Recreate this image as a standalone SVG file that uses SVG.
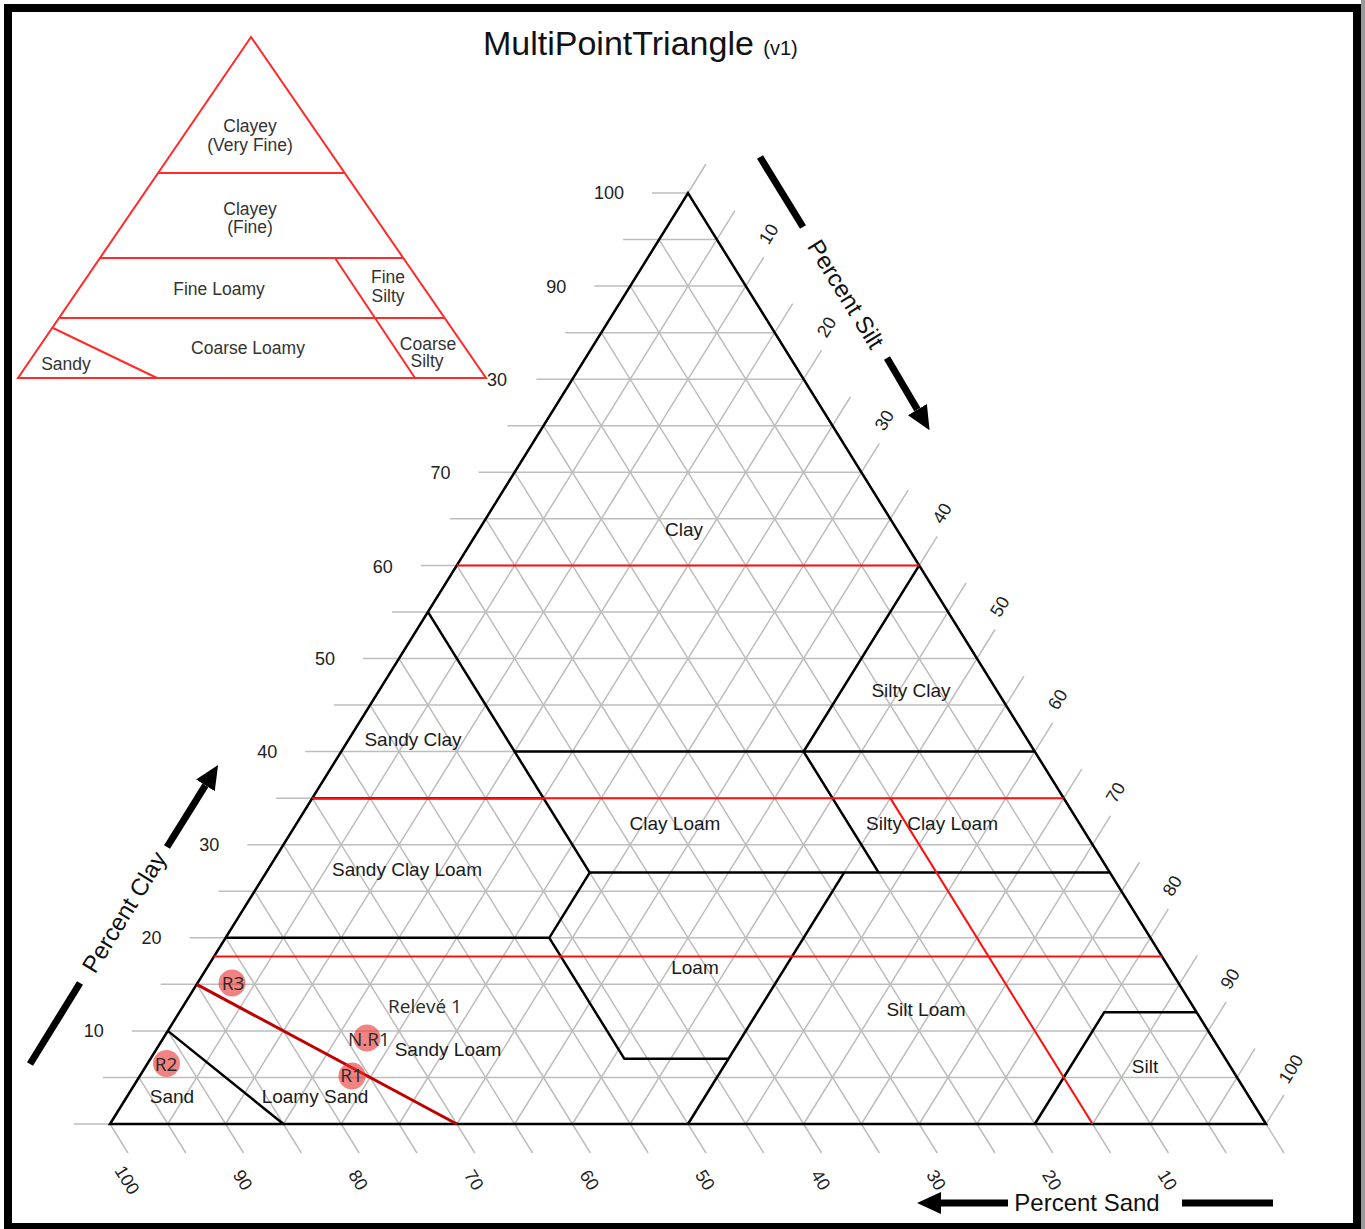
<svg xmlns="http://www.w3.org/2000/svg" width="1365" height="1229" viewBox="0 0 1365 1229">
<style>
.grid{stroke:#bdbdbd;stroke-width:1.5;fill:none}
.bd{stroke:#000;stroke-width:2.5;fill:none;stroke-linejoin:miter}
.red{stroke:#ff1010;stroke-width:2;fill:none}
.dred{stroke:#c00000;stroke-width:3;fill:none}
.ax{font-family:"Liberation Sans",Arial,sans-serif;font-size:18px;fill:#222}
.tl{font-family:"Liberation Sans",Arial,sans-serif;font-size:19px;fill:#1a1a1a;text-anchor:middle}
.pt{font-family:"Open Sans","Liberation Sans",sans-serif;font-size:19px;fill:#2a2a2a;text-anchor:middle}
.ins{stroke:#ff2a2a;stroke-width:2;fill:none}
.it{font-family:"Liberation Sans",Arial,sans-serif;font-size:17.5px;fill:#333;text-anchor:middle}
.dot{fill:#e83030;opacity:0.6}
.arr{stroke:#000;stroke-width:7;fill:none}
.atl{font-family:"Liberation Sans",Arial,sans-serif;font-size:24px;fill:#111;text-anchor:middle}
</style>
<defs>
<marker id="ah" markerUnits="userSpaceOnUse" markerWidth="24" markerHeight="22" viewBox="0 0 24 22" refX="0" refY="11" orient="auto">
<path d="M0,0 L24,11 L0,22 Z" fill="#000"/>
</marker>
</defs>
<rect x="0" y="0" width="1365" height="1229" fill="#fff"/>
<rect x="1361" y="0" width="4" height="1229" fill="#9a9a9a"/>
<rect x="8" y="8" width="1349" height="1219" fill="none" stroke="#000" stroke-width="8"/>

<g id="title">
<text x="483" y="55" font-family="Liberation Sans, Arial, sans-serif" font-size="34" fill="#111">MultiPointTriangle <tspan font-size="20">(v1)</tspan></text>
</g>

<g id="grid" class="grid">
<path d="M74,1124H1266 M102.9,1077.45H1237.1 M131.8,1030.9H1208.2 M160.7,984.35H1179.3 M189.6,937.8H1150.4 M218.5,891.25H1121.5 M247.4,844.7H1092.6 M276.3,798.15H1063.7 M305.2,751.6H1034.8 M334.1,705.05H1005.9 M363,658.5H977 M391.9,611.95H948.1 M420.8,565.4H919.2 M449.7,518.85H890.3 M478.6,472.3H861.4 M507.5,425.75H832.5 M536.4,379.2H803.6 M565.3,332.65H774.7 M594.2,286.1H745.8 M623.1,239.55H716.9 M652,193H688"/>
<path d="M110,1124L128,1153 M138.9,1077.45L185.8,1153 M167.8,1030.9L243.6,1153 M196.7,984.35L301.4,1153 M225.6,937.8L359.2,1153 M254.5,891.25L417,1153 M283.4,844.7L474.8,1153 M312.3,798.15L532.6,1153 M341.2,751.6L590.4,1153 M370.1,705.05L648.2,1153 M399,658.5L706,1153 M427.9,611.95L763.8,1153 M456.8,565.4L821.6,1153 M485.7,518.85L879.4,1153 M514.6,472.3L937.2,1153 M543.5,425.75L995,1153 M572.4,379.2L1052.8,1153 M601.3,332.65L1110.6,1153 M630.2,286.1L1168.4,1153 M659.1,239.55L1226.2,1153 M688,193L1284,1153"/>
<path d="M110,1124L706,164 M167.8,1124L734.9,210.55 M225.6,1124L763.8,257.1 M283.4,1124L792.7,303.65 M341.2,1124L821.6,350.2 M399,1124L850.5,396.75 M456.8,1124L879.4,443.3 M514.6,1124L908.3,489.85 M572.4,1124L937.2,536.4 M630.2,1124L966.1,582.95 M688,1124L995,629.5 M745.8,1124L1023.9,676.05 M803.6,1124L1052.8,722.6 M861.4,1124L1081.7,769.15 M919.2,1124L1110.6,815.7 M977,1124L1139.5,862.25 M1034.8,1124L1168.4,908.8 M1092.6,1124L1197.3,955.35 M1150.4,1124L1226.2,1001.9 M1208.2,1124L1255.1,1048.45 M1266,1124L1284,1095"/>
</g>

<g id="axis-labels" class="ax">
<g text-anchor="end">
<text x="103.8" y="1037">10</text>
<text x="161.6" y="944">20</text>
<text x="219.4" y="851">30</text>
<text x="277.2" y="758">40</text>
<text x="335" y="665">50</text>
<text x="392.8" y="573">60</text>
<text x="450.6" y="479">70</text>
<text x="566.2" y="293">90</text>
<text x="624" y="199">100</text>
</g>
<text x="487" y="386">30</text>
<g text-anchor="middle" dominant-baseline="central">
<text transform="translate(127,1180) rotate(58.2)">100</text>
<text transform="translate(242.6,1180) rotate(58.2)">90</text>
<text transform="translate(358.2,1180) rotate(58.2)">80</text>
<text transform="translate(473.8,1180) rotate(58.2)">70</text>
<text transform="translate(589.4,1180) rotate(58.2)">60</text>
<text transform="translate(705,1180) rotate(58.2)">50</text>
<text transform="translate(820.6,1180) rotate(58.2)">40</text>
<text transform="translate(936.2,1180) rotate(58.2)">30</text>
<text transform="translate(1051.8,1180) rotate(58.2)">20</text>
<text transform="translate(1167.4,1180) rotate(58.2)">10</text>
<text transform="translate(768.8,234.1) rotate(-58.2)">10</text>
<text transform="translate(826.6,327.2) rotate(-58.2)">20</text>
<text transform="translate(884.4,420.3) rotate(-58.2)">30</text>
<text transform="translate(942.2,513.4) rotate(-58.2)">40</text>
<text transform="translate(1000,606.5) rotate(-58.2)">50</text>
<text transform="translate(1057.8,699.6) rotate(-58.2)">60</text>
<text transform="translate(1115.6,792.7) rotate(-58.2)">70</text>
<text transform="translate(1172.4,885.8) rotate(-58.2)">80</text>
<text transform="translate(1230.2,978.9) rotate(-58.2)">90</text>
<text transform="translate(1291,1069) rotate(-58.2)">100</text>
</g>
</g>

<g id="connectors">
<g class="bd">
<path d="M110,1124 L688,193 L1266,1124 Z"/>
<path d="M167.8,1030.9 L283.4,1124"/>
<path d="M225.6,937.8 H549.3 L589.7,872.6"/>
<path d="M549.3,937.8 L624.4,1058.8 H728.5"/>
<path d="M688,1124 L844.1,872.6"/>
<path d="M589.7,872.6 H1110"/>
<path d="M427.9,611.95 L589.7,872.6"/>
<path d="M514.6,751.6 H1034.8"/>
<path d="M919.2,565.4 L803.6,751.6 L878.7,872.6"/>
<path d="M312.3,798.15 H543.5"/>
<path d="M1034.8,1124 L1104.2,1012.3 H1196.6"/>
</g>
<g class="red">
<path d="M456.8,565.4 H919.2"/>
<path d="M312.3,798.15 H1063.7"/>
<path d="M214,956.4 H1162"/>
<path d="M890.3,798.15 L1092.6,1124"/>
</g>
<path class="dred" d="M196.7,984.35 L456.8,1124"/>
</g>

<g id="textures">
<g id="n-clay"><text class="tl" x="684" y="536">Clay</text></g>
<g id="n-silty-clay"><text class="tl" x="911" y="697">Silty Clay</text></g>
<g id="n-sandy-clay"><text class="tl" x="413" y="746">Sandy Clay</text></g>
<g id="n-clay-loam"><text class="tl" x="675" y="830">Clay Loam</text></g>
<g id="n-silty-clay-loam"><text class="tl" x="932" y="830">Silty Clay Loam</text></g>
<g id="n-sandy-clay-loam"><text class="tl" x="407" y="876">Sandy Clay Loam</text></g>
<g id="n-loam"><text class="tl" x="695" y="974">Loam</text></g>
<g id="n-silt-loam"><text class="tl" x="926" y="1016">Silt Loam</text></g>
<g id="n-sandy-loam"><text class="tl" x="448" y="1056">Sandy Loam</text></g>
<g id="n-silt"><text class="tl" x="1145" y="1073">Silt</text></g>
<g id="n-sand"><text class="tl" x="172" y="1103">Sand</text></g>
<g id="n-loamy-sand"><text class="tl" x="315" y="1103">Loamy Sand</text></g>
</g>

<g id="points">
<g id="p-releve"><text class="pt" x="425" y="1013">Relevé 1</text></g>
<g id="p-r3"><circle class="dot" cx="232" cy="983" r="13.5"/><text class="pt" x="233" y="990">R3</text></g>
<g id="p-r2"><circle class="dot" cx="166.5" cy="1063.5" r="13.5"/><text class="pt" x="166" y="1071">R2</text></g>
<g id="p-nr1"><circle class="dot" cx="367" cy="1038" r="13.5"/><text class="pt" x="369" y="1046">N.R1</text></g>
<g id="p-r1"><circle class="dot" cx="352" cy="1076" r="13.5"/><text class="pt" x="351.5" y="1082">R1</text></g>
</g>

<g id="axis-titles">
<g id="clay-axis">
<path class="arr" d="M30,1064 L80,983"/>
<path class="arr" d="M167,847 L205.4,785.4" marker-end="url(#ah)"/>
<text class="atl" transform="translate(124,912) rotate(-58.2)" dominant-baseline="central">Percent Clay</text>
</g>
<g id="silt-axis">
<path class="arr" d="M760,157 L803,227"/>
<path class="arr" d="M887,358 L917.4,409.6" marker-end="url(#ah)"/>
<text class="atl" transform="translate(846,294) rotate(58.2)" dominant-baseline="central">Percent Silt</text>
</g>
<g id="sand-axis">
<path class="arr" d="M1008,1203 H941" marker-end="url(#ah)"/>
<path class="arr" d="M1182,1203 H1273"/>
<text class="atl" x="1087" y="1211">Percent Sand</text>
</g>
</g>

<g id="inset">
<g class="ins">
<path d="M251,37 L18,378 H486 Z"/>
<path d="M158,173 H345"/>
<path d="M100,258 H404"/>
<path d="M60,318 H445"/>
<path d="M335,258 L415,378"/>
<path d="M53,328 L157,378"/>
</g>
<g class="it">
<text x="250" y="132">Clayey</text>
<text x="250" y="151">(Very Fine)</text>
<text x="250" y="215">Clayey</text>
<text x="250" y="233">(Fine)</text>
<text x="219" y="295">Fine Loamy</text>
<text x="388" y="283">Fine</text>
<text x="388" y="302">Silty</text>
<text x="248" y="354">Coarse Loamy</text>
<text x="428" y="350">Coarse</text>
<text x="427" y="367">Silty</text>
<text x="66" y="370">Sandy</text>
</g>
</g>
</svg>
